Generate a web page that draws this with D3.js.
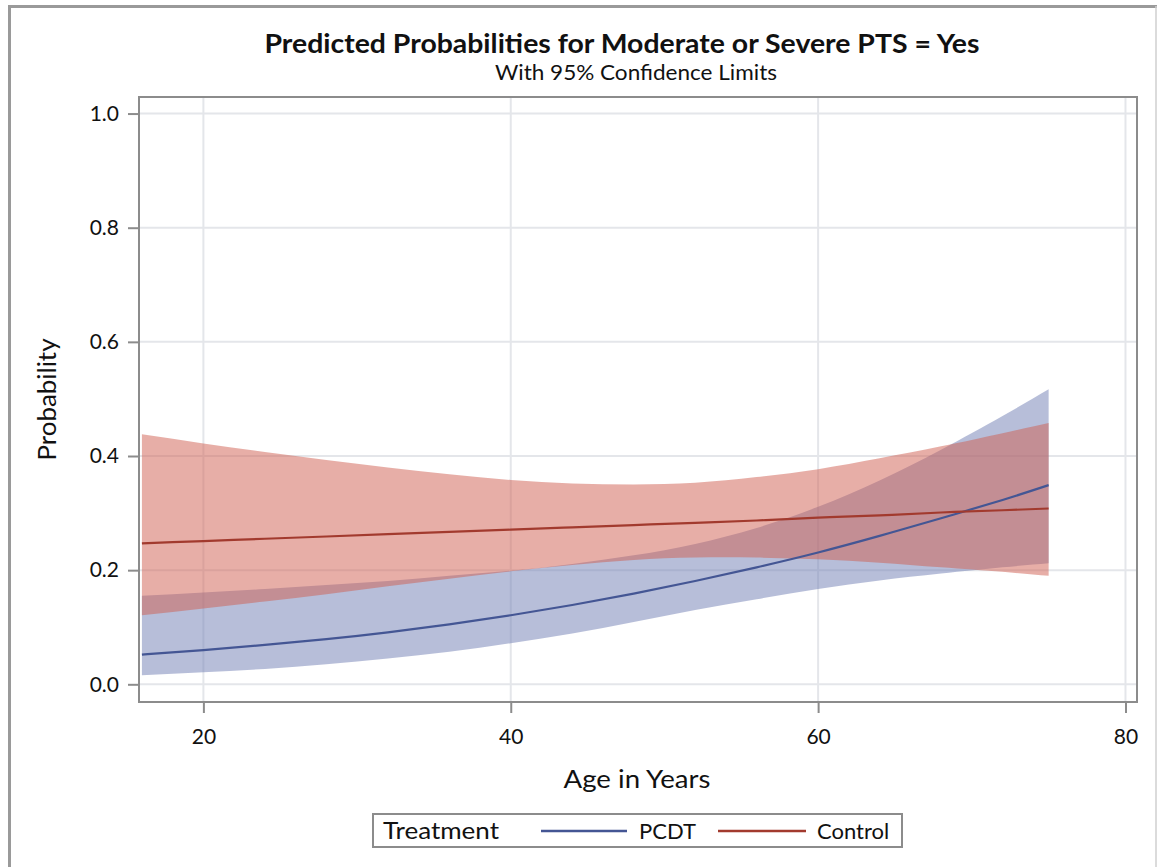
<!DOCTYPE html>
<html>
<head>
<meta charset="utf-8">
<script src="https://cdn.jsdelivr.net/npm/d3@7"></script>
<style>
  html, body { margin: 0; padding: 0; background: #fff; }
  svg { display: block; }
  text { font-family: Lato, "Open Sans", sans-serif; fill: #111; }
</style>
</head>
<body>
<svg id="chart" width="1157" height="867"></svg>
<script>
// Predicted probability of moderate/severe PTS by age, with 95% confidence limits
const ages         = [16, 20, 24, 28, 32, 36, 40, 44, 48, 52, 56, 60, 64, 68, 72, 75];
const pcdtEst      = [0.052, 0.060, 0.069, 0.079, 0.091, 0.105, 0.121, 0.139, 0.159, 0.181, 0.205, 0.231, 0.260, 0.291, 0.323, 0.349];
const pcdtLower    = [0.016, 0.021, 0.027, 0.035, 0.045, 0.057, 0.072, 0.089, 0.109, 0.130, 0.149, 0.167, 0.182, 0.194, 0.205, 0.212];
const pcdtUpper    = [0.155, 0.161, 0.167, 0.174, 0.181, 0.190, 0.199, 0.211, 0.226, 0.246, 0.274, 0.311, 0.357, 0.411, 0.470, 0.517];
const controlEst   = [0.247, 0.251, 0.255, 0.259, 0.263, 0.267, 0.271, 0.275, 0.279, 0.283, 0.287, 0.292, 0.296, 0.301, 0.305, 0.308];
const controlLower = [0.121, 0.133, 0.145, 0.158, 0.172, 0.185, 0.198, 0.209, 0.218, 0.222, 0.222, 0.219, 0.213, 0.205, 0.197, 0.190];
const controlUpper = [0.438, 0.422, 0.407, 0.393, 0.380, 0.368, 0.358, 0.352, 0.350, 0.353, 0.363, 0.377, 0.396, 0.417, 0.440, 0.458];

const xTicks = [20, 40, 60, 80];
const yTicks = [0, 0.2, 0.4, 0.6, 0.8, 1.0];
const groups = ["PCDT", "Control"];

const titleText = "Predicted Probabilities for Moderate or Severe PTS = Yes";
const subtitleText = "With 95% Confidence Limits";
const xLabel = "Age in Years";
const yLabel = "Probability";
const legendTitle = "Treatment";

const lineColors = { PCDT: "#445694", Control: "#A23A2E" };
const fillColors = { PCDT: "#6F7EB3", Control: "#CF5E50" };

const svg = d3.select("#chart");

// plot frame
const frame = { left: 139, right: 1137, top: 97, bottom: 702 };

const x = d3.scaleLinear().domain([15.81, 80.75]).range([frame.left, frame.right]);
const y = d3.scaleLinear().domain([-0.031, 1.029]).range([frame.bottom, frame.top]);

// outer border of the graph
svg.append("line").attr("x1", 9.5).attr("x2", 9.5).attr("y1", 5).attr("y2", 867)
  .attr("stroke", "#9a9a9a").attr("stroke-width", 3);
svg.append("line").attr("x1", 8).attr("x2", 1157).attr("y1", 6.5).attr("y2", 6.5)
  .attr("stroke", "#9a9a9a").attr("stroke-width", 3);
svg.append("line").attr("x1", 1156).attr("x2", 1156).attr("y1", 6).attr("y2", 867)
  .attr("stroke", "#cfcfcf").attr("stroke-width", 1.5);

// titles
svg.append("text").attr("x", 622).attr("y", 53).attr("text-anchor", "middle")
  .attr("textLength", 715).attr("lengthAdjust", "spacingAndGlyphs")
  .style("font-size", "27px").style("font-weight", "bold").text(titleText);
svg.append("text").attr("x", 636).attr("y", 80).attr("text-anchor", "middle")
  .attr("textLength", 282).attr("lengthAdjust", "spacingAndGlyphs")
  .style("font-size", "21px").text(subtitleText);

// grid lines
const grid = svg.append("g");
grid.selectAll(".gx").data(xTicks).enter().append("line")
  .attr("x1", d => x(d)).attr("x2", d => x(d))
  .attr("y1", frame.top).attr("y2", frame.bottom)
  .attr("stroke", "#e4e6ea").attr("stroke-width", 2);
grid.selectAll(".gy").data(yTicks).enter().append("line")
  .attr("x1", frame.left).attr("x2", frame.right)
  .attr("y1", d => y(d)).attr("y2", d => y(d))
  .attr("stroke", "#e4e6ea").attr("stroke-width", 2);

// confidence bands and fitted curves
const series = {
  PCDT: { est: pcdtEst, lo: pcdtLower, hi: pcdtUpper },
  Control: { est: controlEst, lo: controlLower, hi: controlUpper }
};

const area = d3.area()
  .x(d => x(d.age)).y0(d => y(d.lo)).y1(d => y(d.hi))
  .curve(d3.curveNatural);
const line = d3.line()
  .x(d => x(d.age)).y(d => y(d.est))
  .curve(d3.curveNatural);

const plot = svg.append("g");
groups.forEach(g => {
  const rows = ages.map((a, i) => ({ age: a, est: series[g].est[i], lo: series[g].lo[i], hi: series[g].hi[i] }));
  plot.append("path").datum(rows).attr("d", area)
    .attr("fill", fillColors[g]).attr("fill-opacity", 0.5).attr("stroke", "none");
});
groups.forEach(g => {
  const rows = ages.map((a, i) => ({ age: a, est: series[g].est[i] }));
  plot.append("path").datum(rows).attr("d", line)
    .attr("fill", "none").attr("stroke", lineColors[g]).attr("stroke-width", 2.2);
});

// frame
svg.append("rect")
  .attr("x", frame.left).attr("y", frame.top)
  .attr("width", frame.right - frame.left).attr("height", frame.bottom - frame.top)
  .attr("fill", "none").attr("stroke", "#8c8c8c").attr("stroke-width", 2);

// axes
const xAxis = d3.axisBottom(x).tickValues(xTicks).tickFormat(d3.format("d"))
  .tickSizeInner(11).tickSizeOuter(0).tickPadding(16);
const yAxis = d3.axisLeft(y).tickValues(yTicks).tickFormat(d3.format(".1f"))
  .tickSizeInner(11).tickSizeOuter(0).tickPadding(9);

const gx = svg.append("g").attr("transform", `translate(0,${frame.bottom})`).call(xAxis);
const gy = svg.append("g").attr("transform", `translate(${frame.left},0)`).call(yAxis);
[gx, gy].forEach(g => {
  g.select(".domain").remove();
  g.selectAll(".tick line").attr("stroke", "#8c8c8c").attr("stroke-width", 2);
  g.selectAll(".tick text").style("font-size", "21px")
    .style("font-family", "Lato, 'Open Sans', sans-serif").attr("fill", "#111");
});

// axis labels
svg.append("text").attr("x", 637).attr("y", 788).attr("text-anchor", "middle")
  .attr("textLength", 147).attr("lengthAdjust", "spacingAndGlyphs")
  .style("font-size", "25px").text(xLabel);
svg.append("text").attr("transform", `translate(56,${(frame.top + frame.bottom) / 2}) rotate(-90)`)
  .attr("text-anchor", "middle")
  .attr("textLength", 122).attr("lengthAdjust", "spacingAndGlyphs")
  .style("font-size", "25px").text(yLabel);

// legend
const legend = svg.append("g");
legend.append("rect")
  .attr("x", 373).attr("y", 814).attr("width", 529).attr("height", 33)
  .attr("fill", "#fff").attr("stroke", "#8c8c8c").attr("stroke-width", 2);
legend.append("text").attr("x", 383).attr("y", 839)
  .attr("textLength", 116).attr("lengthAdjust", "spacingAndGlyphs")
  .style("font-size", "23px").text(legendTitle);
const legendItems = [
  { key: "PCDT", x1: 541, x2: 627, tx: 639 },
  { key: "Control", x1: 718, x2: 806, tx: 817 }
];
legendItems.forEach(it => {
  legend.append("line").attr("x1", it.x1).attr("x2", it.x2).attr("y1", 831).attr("y2", 831)
    .attr("stroke", lineColors[it.key]).attr("stroke-width", 2.5);
  legend.append("text").attr("x", it.tx).attr("y", 839).style("font-size", "22px").text(it.key);
});
</script>
</body>
</html>
